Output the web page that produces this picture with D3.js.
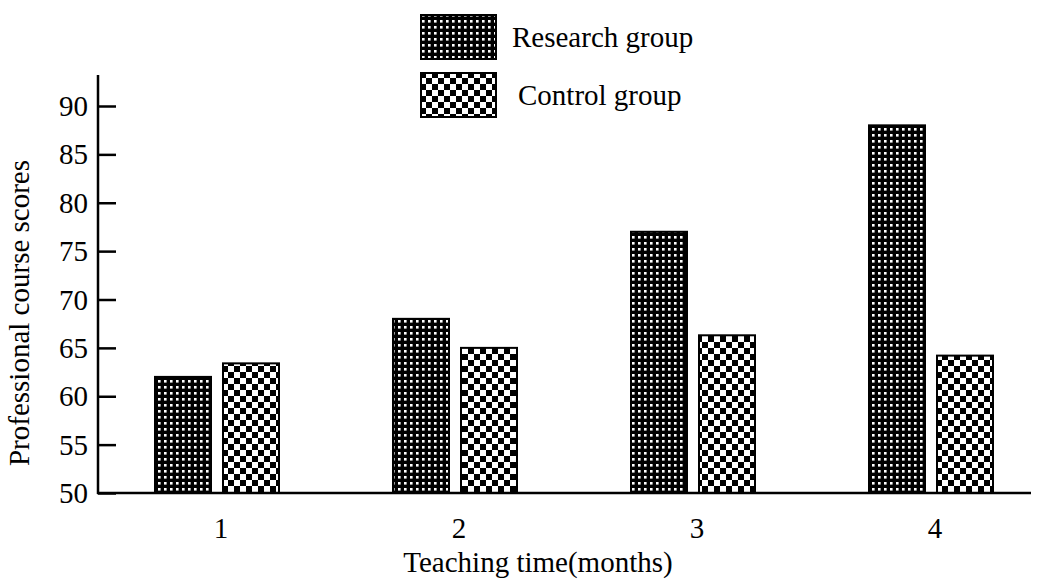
<!DOCTYPE html>
<html>
<head>
<meta charset="utf-8">
<script src="https://cdn.jsdelivr.net/npm/d3@7"></script>
<style>
  body { margin: 0; background: #fff; }
</style>
</head>
<body>
<div id="chart"></div>
<script>
let months = ["1", "2", "3", "4"];
let researchScores = [62, 68, 77, 88];
let controlScores = [63.4, 65, 66.3, 64.2];
let yTicks = [50, 55, 60, 65, 70, 75, 80, 85, 90];
let seriesNames = ["Research group", "Control group"];

var serif = "'Liberation Serif', 'DejaVu Serif', 'Times New Roman', serif";

drawChart();

function drawChart(){
    var width = 1039, height = 579;

    var svg = d3.select("#chart")
    .append("svg")
    .attr("width", width)
    .attr("height", height)
    .attr("font-family", serif);

    // patterns for the two groups
    var defs = svg.append("defs");

    var dots = defs.append("pattern")
    .attr("id", "dots")
    .attr("patternUnits", "userSpaceOnUse")
    .attr("width", 6)
    .attr("height", 6);
    dots.append("rect").attr("width", 6).attr("height", 6).attr("fill", "#000");
    dots.append("rect").attr("x", 2).attr("y", 2).attr("width", 2.6).attr("height", 2.6).attr("fill", "#fff");

    var checks = defs.append("pattern")
    .attr("id", "checks")
    .attr("patternUnits", "userSpaceOnUse")
    .attr("width", 12)
    .attr("height", 12);
    checks.append("rect").attr("width", 12).attr("height", 12).attr("fill", "#fff");
    checks.append("rect").attr("width", 6).attr("height", 6).attr("fill", "#000");
    checks.append("rect").attr("x", 6).attr("y", 6).attr("width", 6).attr("height", 6).attr("fill", "#000");

    var fills = ["url(#dots)", "url(#checks)"];

    // scales
    var x = d3.scaleBand()
    .domain(months)
    .range([98, 1050]);

    var y = d3.scaleLinear()
    .domain([50, 90])
    .range([493, 106]);

    var barW = 56, offset = 34;

    // bars
    var series = [researchScores, controlScores];
    series.forEach(function(vals, s){
        svg.append("g")
        .selectAll("rect")
        .data(vals)
        .enter()
        .append("rect")
        .attr("x", (d, i) => x(months[i]) + x.bandwidth() / 2 + (s == 0 ? -offset : offset) - barW / 2)
        .attr("y", d => y(d))
        .attr("width", barW)
        .attr("height", d => y(50) - y(d))
        .attr("fill", fills[s])
        .attr("stroke", "#000")
        .attr("stroke-width", 2);
    });

    // y axis
    var yAxis = svg.append("g")
    .attr("transform", "translate(98,0)")
    .call(d3.axisRight(y).tickValues(yTicks).tickSize(18).tickFormat(""));
    yAxis.select(".domain").remove();
    yAxis.selectAll("line").attr("stroke", "#000").attr("stroke-width", 2.5);

    svg.append("line")
    .attr("x1", 98).attr("x2", 98)
    .attr("y1", 75).attr("y2", 494)
    .attr("stroke", "#000").attr("stroke-width", 2.5);

    svg.append("g")
    .selectAll("text")
    .data(yTicks)
    .enter()
    .append("text")
    .attr("x", 88)
    .attr("y", d => y(d) + 10)
    .attr("text-anchor", "end")
    .attr("font-size", 29)
    .text(d => d);

    // x axis
    svg.append("line")
    .attr("x1", 97).attr("x2", 1031)
    .attr("y1", 493).attr("y2", 493)
    .attr("stroke", "#000").attr("stroke-width", 2.5);

    svg.append("g")
    .selectAll("text")
    .data(months)
    .enter()
    .append("text")
    .attr("x", d => x(d) + x.bandwidth() / 2 + 4)
    .attr("y", 538)
    .attr("text-anchor", "middle")
    .attr("font-size", 29)
    .text(d => d);

    // axis titles
    svg.append("text")
    .attr("x", 538)
    .attr("y", 572)
    .attr("text-anchor", "middle")
    .attr("font-size", 29)
    .text("Teaching time(months)");

    svg.append("text")
    .attr("transform", "translate(29,313) rotate(-90)")
    .attr("text-anchor", "middle")
    .attr("font-size", 29)
    .text("Professional course scores");

    // legend
    var legend = svg.append("g");
    seriesNames.forEach(function(name, s){
        legend.append("rect")
        .attr("x", 421)
        .attr("y", 15 + s * 58)
        .attr("width", 75)
        .attr("height", 44)
        .attr("fill", fills[s])
        .attr("stroke", "#000")
        .attr("stroke-width", 2);
        legend.append("text")
        .attr("x", s == 0 ? 512 : 518)
        .attr("y", 47 + s * 58)
        .attr("font-size", 29)
        .text(name);
    });
}
</script>
</body>
</html>
